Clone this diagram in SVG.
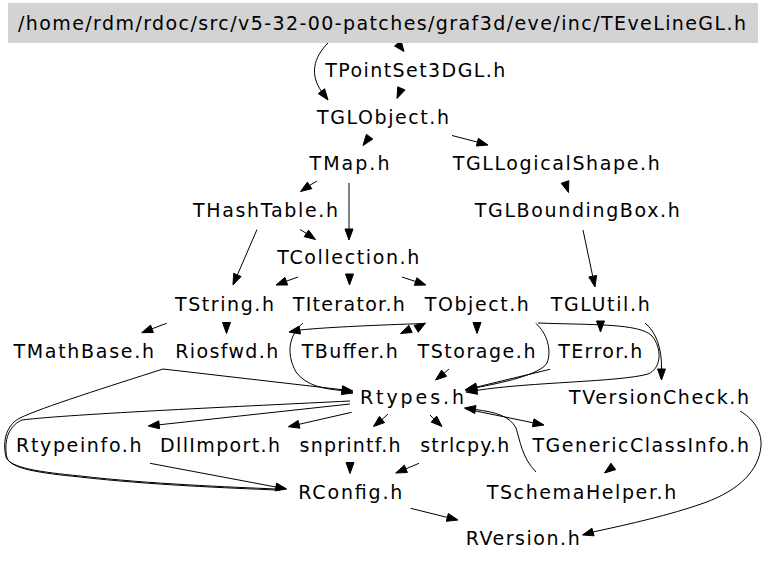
<svg xmlns="http://www.w3.org/2000/svg" width="768" height="562" viewBox="0 0 768 562">
<style>
text{font-family:"DejaVu Sans","Liberation Sans",sans-serif;font-size:19px;fill:#000;text-anchor:middle}
.e{fill:none;stroke:#000;stroke-width:1}
.h{fill:#000;stroke:#000;stroke-width:1}
</style>
<rect width="768" height="562" fill="#fff"/>
<g id="connectors">
<!-- title to TPointSet3DGL -->
<polygon class="h" points="394.5,46 401,40.5 404,51.5"/>
<!-- title to TGLObject -->
<path class="e" d="M328,43 C313,58 310,75 321.4,91.2"/>
<polygon class="h" points="328,100 318.2,93.6 324.6,88.8"/>
<!-- TPointSet3DGL to TGLObject -->
<polygon class="h" points="397,98.5 405.1,90 397.7,86.8"/>
<!-- TGLObject to TMap -->
<polygon class="h" points="363,145.5 372.8,139.1 366.4,134.3"/>
<!-- TGLObject to TGLLogicalShape -->
<path class="e" d="M452,135.5 L477.4,142.1"/>
<polygon class="h" points="488,145 476.4,146 478.4,138.3"/>
<!-- TMap to THashTable -->
<path class="e" d="M317,181 L309.6,185.4"/>
<polygon class="h" points="300.5,191.5 311.8,188.7 307.4,182.1"/>
<!-- TMap to TCollection -->
<path class="e" d="M349,183 L349,229"/>
<polygon class="h" points="349,240 345,229 353,229"/>
<!-- THashTable to TCollection -->
<path class="e" d="M300,229.5 L306.4,233.4"/>
<polygon class="h" points="315.5,239.5 304.2,236.7 308.6,230.1"/>
<!-- THashTable to TString -->
<path class="e" d="M257,229.5 L237.4,274.9"/>
<polygon class="h" points="233,285 241.1,276.5 233.7,273.3"/>
<!-- TCollection to TString -->
<path class="e" d="M298,277 L286.3,281.2"/>
<polygon class="h" points="276,285 287.7,285 284.9,277.4"/>
<!-- TCollection to TIterator -->
<polygon class="h" points="349.5,285 345.5,274 353.5,274"/>
<!-- TCollection to TObject -->
<path class="e" d="M402,277 L415.6,281.5"/>
<polygon class="h" points="426,285 414.3,285.3 416.9,277.7"/>
<!-- TGLLogicalShape to TGLBoundingBox -->
<polygon class="h" points="568.5,192.5 561.2,183.3 568.8,180.7"/>
<!-- TGLBoundingBox to TGLUtil -->
<path class="e" d="M583,230 L592.7,276.2"/>
<polygon class="h" points="595,287 588.8,277 596.6,275.4"/>
<!-- TString to TMathBase -->
<path class="e" d="M166.7,323.3 L152,328.8"/>
<polygon class="h" points="141.7,332.7 153.4,332.5 150.6,325.1"/>
<!-- TString to Riosfwd -->
<polygon class="h" points="226.5,333.5 222.5,322.5 230.5,322.5"/>
<!-- TObject to Riosfwd -->
<path class="e" d="M424,323.5 C380,325 330,327 299.8,330"/>
<polygon class="h" points="289,332 300.5,334 299.1,326.1"/>
<!-- TObject / TBuffer -->
<polygon class="h" points="400.5,333.5 412.2,332.5 408.8,325.3"/>
<polygon class="h" points="425.5,323 418.3,332.2 414.1,325.4"/>
<!-- TIterator to Rtypes -->
<path class="e" d="M303,323 C290,334 285,352 296,372 C306,386 325,389 342.3,390.6"/>
<polygon class="h" points="353,393 341.4,394.5 343.2,386.7"/>
<!-- Riosfwd/TMathBase to Rtypes -->
<path class="e" d="M163,369 L342.1,389.7"/>
<polygon class="h" points="353,391 341.6,393.7 342.6,385.7"/>
<!-- loops to RConfig -->
<path class="e" d="M163,369 C110,386 40,408 20,418 C4,426 3,445 6,457 C10,468 40,472 80,476 C150,484 230,487 276,489"/>
<path class="e" d="M350,401 C250,406 70,414 22,420 C6,427 4,445 7,458 C11,469 40,473 80,477 C150,485 230,488 276,490"/>
<!-- Rtypes to Rtypeinfo -->
<path class="e" d="M350,404 L159.2,424.8"/>
<polygon class="h" points="148.3,426 159.6,428.8 158.8,420.8"/>
<!-- Rtypes to DllImport -->
<path class="e" d="M351.7,412.3 L299,424.3"/>
<polygon class="h" points="288.3,426.7 299.9,428.2 298.1,420.4"/>
<!-- Rtypes to snprintf -->
<path class="e" d="M388,414 L382,419.5"/>
<polygon class="h" points="373.5,426.5 384.6,422.6 379.4,416.4"/>
<!-- Rtypes to strlcpy -->
<path class="e" d="M430,415 L433.9,419.1"/>
<polygon class="h" points="442,426.5 431.2,422.1 436.6,416.1"/>
<!-- Rtypes to TGenericClassInfo -->
<path class="e" d="M466,409 L533.2,422.8"/>
<polygon class="h" points="544,425 532.4,426.7 534,418.9"/>
<!-- TSchemaHelper to Rtypes -->
<path class="e" d="M536,472 C522,458 520,440 516,428 C510,416 495,412 475.4,409.5"/>
<polygon class="h" points="464.5,408 474.8,413.5 476,405.5"/>
<!-- TObject to TStorage -->
<polygon class="h" points="477,333.5 473,322.5 481,322.5"/>
<!-- TStorage to Rtypes -->
<path class="e" d="M449,369 L444.1,373.2"/>
<polygon class="h" points="435.5,380 446.6,376.3 441.6,370.1"/>
<!-- TObject to Rtypes -->
<path class="e" d="M535.7,323.3 C547,333 552,350 547,363 C540,375 500,383 475.8,387.8"/>
<polygon class="h" points="465,390 476.6,391.7 475,383.9"/>
<!-- TError to Rtypes -->
<path class="e" d="M550,369.3 L476.7,387"/>
<polygon class="h" points="466,389.5 477.6,390.9 475.8,383.1"/>
<!-- TGLUtil to Rtypes -->
<path class="e" d="M538,323 C590,325 640,323 652,336 C662,348 662,368 648,374 C620,382 530,382 476.9,390.4"/>
<polygon class="h" points="466,392 477.5,394.3 476.3,386.4"/>
<!-- TObject to TVersionCheck -->
<path class="e" d="M645,323 C656,332 662,348 661.5,369"/>
<polygon class="h" points="661.5,380 657.5,369 665.5,369"/>
<!-- TGLUtil to TError -->
<polygon class="h" points="600.5,332 596.5,321 604.5,321"/>
<!-- TVersionCheck to RVersion -->
<path class="e" d="M740,411 C752,418 762,430 761,446 C759,470 740,490 704,503 C670,515 630,524 593,532"/>
<polygon class="h" points="582.5,535 594.1,535.8 591.9,528.2"/>
<!-- RConfig to RVersion -->
<path class="e" d="M410.7,508.3 L447.3,517.4"/>
<polygon class="h" points="458,520 446.3,521.3 448.3,513.5"/>
<!-- TGenericClassInfo to TSchemaHelper -->
<polygon class="h" points="604.5,473 615.7,469.6 610.9,463.2"/>
<!-- strlcpy to RConfig -->
<path class="e" d="M419,463.3 L405.9,468.8"/>
<polygon class="h" points="395.7,473 407.4,472.5 404.4,465.1"/>
<!-- snprintf to RConfig -->
<polygon class="h" points="350,473.5 346,462.5 354,462.5"/>
<!-- Rtypeinfo to RConfig -->
<path class="e" d="M150,463.3 L275.9,487"/>
<polygon class="h" points="286.7,489 275.2,490.9 276.6,483.1"/>
</g>
<g id="node-title"><rect x="8" y="3" width="750" height="40" fill="#d3d3d3"/><text x="382" y="30" textLength="728" lengthAdjust="spacing">/home/rdm/rdoc/src/v5-32-00-patches/graf3d/eve/inc/TEveLineGL.h</text></g>
<g id="node-TPointSet3DGL"><text x="415.3" y="77" textLength="180" lengthAdjust="spacing">TPointSet3DGL.h</text></g>
<g id="node-TGLObject"><text x="383" y="123.5" textLength="132" lengthAdjust="spacing">TGLObject.h</text></g>
<g id="node-TMap"><text x="349.5" y="169.5" textLength="80" lengthAdjust="spacing">TMap.h</text></g>
<g id="node-TGLLogicalShape"><text x="556.2" y="169.5" textLength="207" lengthAdjust="spacing">TGLLogicalShape.h</text></g>
<g id="node-THashTable"><text x="265.5" y="217" textLength="145" lengthAdjust="spacing">THashTable.h</text></g>
<g id="node-TGLBoundingBox"><text x="577.3" y="217" textLength="205" lengthAdjust="spacing">TGLBoundingBox.h</text></g>
<g id="node-TCollection"><text x="348.3" y="263.5" textLength="142" lengthAdjust="spacing">TCollection.h</text></g>
<g id="node-TString"><text x="224.5" y="311" textLength="99" lengthAdjust="spacing">TString.h</text></g>
<g id="node-TIterator"><text x="348.8" y="311" textLength="112" lengthAdjust="spacing">TIterator.h</text></g>
<g id="node-TObject"><text x="476.8" y="311" textLength="104" lengthAdjust="spacing">TObject.h</text></g>
<g id="node-TGLUtil"><text x="600.2" y="311" textLength="99" lengthAdjust="spacing">TGLUtil.h</text></g>
<g id="node-TMathBase"><text x="83.7" y="358" textLength="140.5" lengthAdjust="spacing">TMathBase.h</text></g>
<g id="node-Riosfwd"><text x="226.7" y="358" textLength="103" lengthAdjust="spacing">Riosfwd.h</text></g>
<g id="node-TBuffer"><text x="349.7" y="358" textLength="96" lengthAdjust="spacing">TBuffer.h</text></g>
<g id="node-TStorage"><text x="476.5" y="358" textLength="118" lengthAdjust="spacing">TStorage.h</text></g>
<g id="node-TError"><text x="600.2" y="358" textLength="84" lengthAdjust="spacing">TError.h</text></g>
<g id="node-Rtypes"><text x="412" y="404" textLength="104" lengthAdjust="spacing">Rtypes.h</text></g>
<g id="node-TVersionCheck"><text x="659" y="404" textLength="180" lengthAdjust="spacing">TVersionCheck.h</text></g>
<g id="node-Rtypeinfo"><text x="78.8" y="452" textLength="125.5" lengthAdjust="spacing">Rtypeinfo.h</text></g>
<g id="node-DllImport"><text x="220" y="452" textLength="120" lengthAdjust="spacing">DllImport.h</text></g>
<g id="node-snprintf"><text x="350" y="452" textLength="101" lengthAdjust="spacing">snprintf.h</text></g>
<g id="node-strlcpy"><text x="464.7" y="452" textLength="89" lengthAdjust="spacing">strlcpy.h</text></g>
<g id="node-TGenericClassInfo"><text x="640.7" y="452" textLength="216.5" lengthAdjust="spacing">TGenericClassInfo.h</text></g>
<g id="node-RConfig"><text x="350.3" y="499" textLength="104" lengthAdjust="spacing">RConfig.h</text></g>
<g id="node-TSchemaHelper"><text x="581.5" y="499" textLength="189.5" lengthAdjust="spacing">TSchemaHelper.h</text></g>
<g id="node-RVersion"><text x="522.7" y="545" textLength="114" lengthAdjust="spacing">RVersion.h</text></g>
</svg>
